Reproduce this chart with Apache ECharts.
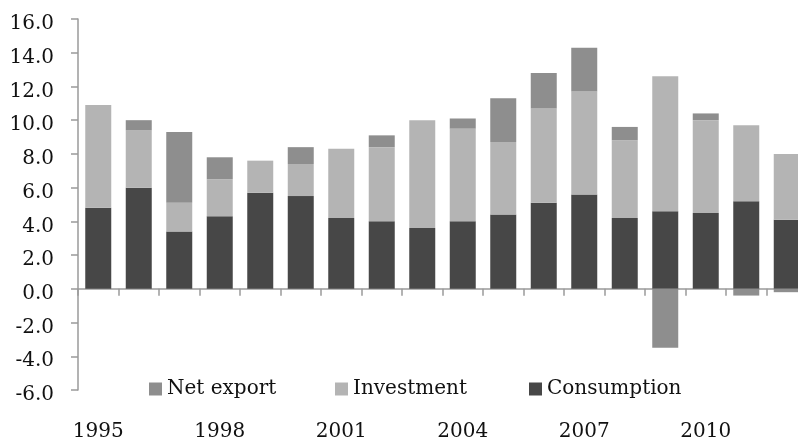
<!DOCTYPE html>
<html>
<head>
<meta charset="utf-8">
<script src="https://cdn.jsdelivr.net/npm/echarts@6/dist/echarts.min.js"></script>
<style>
  html, body { margin: 0; padding: 0; background: #fff; overflow: hidden; }
  /* the last category runs a little past the right edge of the view */
  #chart { width: 807px; height: 442px; }
</style>
</head>
<body>
<div id="chart"></div>
<script>
// Contributions to GDP growth (percentage points), by year
const years = ['1995','1996','1997','1998','1999','2000','2001','2002','2003',
               '2004','2005','2006','2007','2008','2009','2010','2011','2012'];
const consumption = [4.8, 6.0, 3.4, 4.3, 5.7, 5.5, 4.2, 4.0, 3.6, 4.0, 4.4, 5.1, 5.6, 4.2, 4.6, 4.5, 5.2, 4.1];
const investment  = [6.1, 3.4, 1.7, 2.2, 1.9, 1.9, 4.1, 4.4, 6.4, 5.5, 4.3, 5.6, 6.1, 4.6, 8.0, 5.5, 4.5, 3.9];
const netExport   = [0.0, 0.6, 4.2, 1.3, 0.0, 1.0, 0.0, 0.7, 0.0, 0.6, 2.6, 2.1, 2.6, 0.8, -3.5, 0.4, -0.4, -0.2];
const yTicks = { min: -6, max: 16, step: 2 };

const fontFamily = '"DejaVu Serif", serif';
const textColor = '#111111';
const axisColor = '#9a9a9a';

const chart = echarts.init(document.getElementById('chart'), null, { renderer: 'canvas' });

function barSeries(name, data, color) {
  return {
    name: name,
    type: 'bar',
    stack: 'gdp',
    data: data,
    barWidth: 26,
    xAxisIndex: 0,
    itemStyle: { color: color },
    emphasis: { disabled: true }
  };
}

// one legend entry per block so each sits at its own spot along the bottom
function legendItem(name, left) {
  return {
    data: [name],
    left: left,
    top: 374,
    itemWidth: 13,
    itemHeight: 13,
    icon: 'rect',
    textStyle: { fontFamily: fontFamily, fontSize: 20, color: textColor },
    selectedMode: false
  };
}

chart.setOption({
  animation: false,
  backgroundColor: '#ffffff',
  textStyle: { fontFamily: fontFamily },
  grid: { left: 78, right: 0, top: 19, bottom: 49, containLabel: false },
  legend: [
    legendItem('Net export', 144),
    legendItem('Investment', 330),
    legendItem('Consumption', 524)
  ],
  xAxis: [
    {
      type: 'category',
      data: years,
      position: 'bottom',
      axisLine: { onZero: true, lineStyle: { color: axisColor, width: 1.5 } },
      axisTick: { show: true, length: 7, alignWithLabel: false, lineStyle: { color: axisColor, width: 1.5 } },
      axisLabel: { show: false },
      splitLine: { show: false }
    },
    {
      type: 'category',
      data: years,
      position: 'bottom',
      axisLine: { show: false, onZero: false },
      axisTick: { show: false },
      axisLabel: {
        show: true,
        interval: 2,
        margin: 32,
        fontFamily: fontFamily,
        fontSize: 20,
        color: textColor
      },
      splitLine: { show: false }
    }
  ],
  yAxis: {
    type: 'value',
    min: yTicks.min,
    max: yTicks.max,
    interval: yTicks.step,
    axisLine: { show: true, lineStyle: { color: axisColor, width: 1.5 } },
    axisTick: { show: true, length: 7, lineStyle: { color: axisColor, width: 1.5 } },
    axisLabel: {
      margin: 24,
      verticalAlign: 'top',
      lineHeight: 10,
      fontFamily: fontFamily,
      fontSize: 20,
      color: textColor,
      formatter: v => v.toFixed(1)
    },
    splitLine: { show: false }
  },
  series: [
    barSeries('Consumption', consumption, '#474747'),
    barSeries('Investment', investment, '#b4b4b4'),
    barSeries('Net export', netExport, '#8e8e8e')
  ]
});
</script>
</body>
</html>
